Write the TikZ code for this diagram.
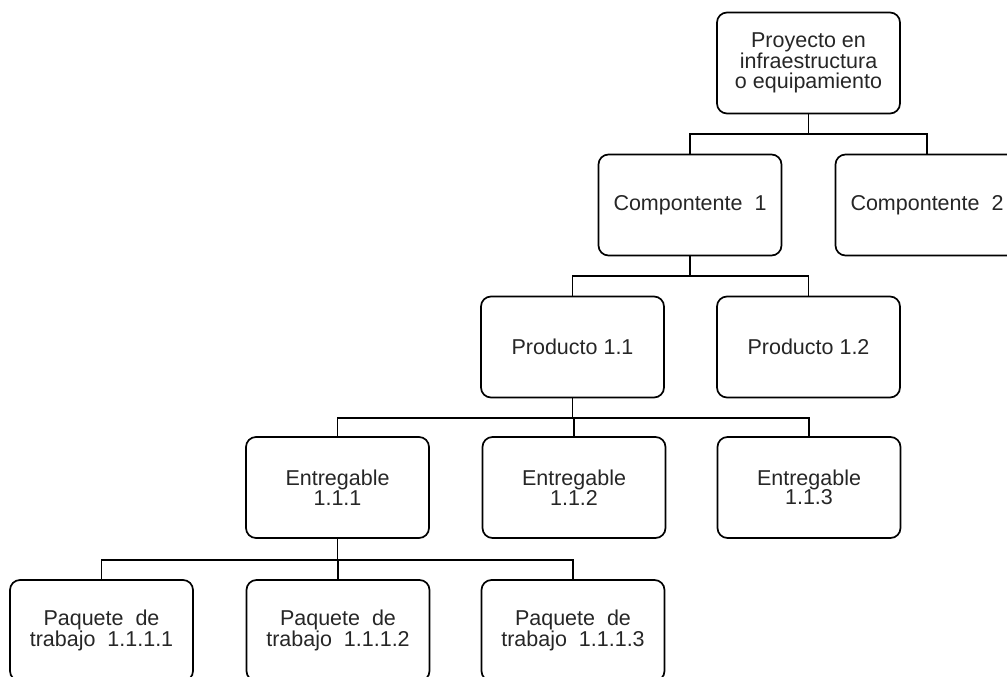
\documentclass[tikz,border=0pt]{standalone}
\usepackage{fontspec}
\setmainfont{Liberation Sans}
\begin{document}
\begin{tikzpicture}[x=1pt,y=-1pt,
  wbs/.style={draw=black, line width=1.7pt, rounded corners=10pt,
    minimum width=183pt, minimum height=101pt, inner sep=0pt,
    align=center, text=black!85, font=\fontsize{21.5}{19.5}\selectfont},
  link/.style={draw=black, line width=1.7pt}]
  \clip (0,0) rectangle (1007,677);

  % level 0
  \node[wbs] (proy) at (808.5,63) {Proyecto en\\infraestructura\\o equipamiento};
  % level 1
  \node[wbs] (comp1) at (690,205) {Compontente\ \ 1};
  \node[wbs] (comp2) at (927,205) {Compontente\ \ 2};
  % level 2
  \node[wbs] (prod11) at (572.5,347) {Producto 1.1};
  \node[wbs] (prod12) at (808.5,347) {Producto 1.2};
  % level 3
  \node[wbs] (ent111) at (337.5,487.5) {Entregable\\1.1.1};
  \node[wbs] (ent112) at (574,487.5) {Entregable\\1.1.2};
  \node[wbs] (ent113) at (809,487.5) {Entregable\\1.1.3};
  % level 4
  \node[wbs] (paq1) at (101.5,630.5) {Paquete\ \ de\\trabajo\ \ 1.1.1.1};
  \node[wbs] (paq2) at (338,630.5) {Paquete\ \ de\\trabajo\ \ 1.1.1.2};
  \node[wbs] (paq3) at (573,630.5) {Paquete\ \ de\\trabajo\ \ 1.1.1.3};

  % horizontal buses between levels
  \coordinate (bus1) at (0,134);
  \coordinate (bus2) at (0,276);
  \coordinate (bus3) at (0,418);
  \coordinate (bus4) at (0,560);

  \draw[link] (proy.south) -- (proy.south |- bus1) -| (comp1.north);
  \draw[link] (proy.south |- bus1) -| (comp2.north);

  \draw[link] (comp1.south) -- (comp1.south |- bus2) -| (prod11.north);
  \draw[link] (comp1.south |- bus2) -| (prod12.north);

  \draw[link] (prod11.south) -- (prod11.south |- bus3) -| (ent111.north);
  \draw[link] (prod11.south |- bus3) -| (ent112.north);
  \draw[link] (prod11.south |- bus3) -| (ent113.north);

  \draw[link] (ent111.south) -- (ent111.south |- bus4) -| (paq1.north);
  \draw[link] (ent111.south |- bus4) -| (paq2.north);
  \draw[link] (ent111.south |- bus4) -| (paq3.north);
\end{tikzpicture}
\end{document}
